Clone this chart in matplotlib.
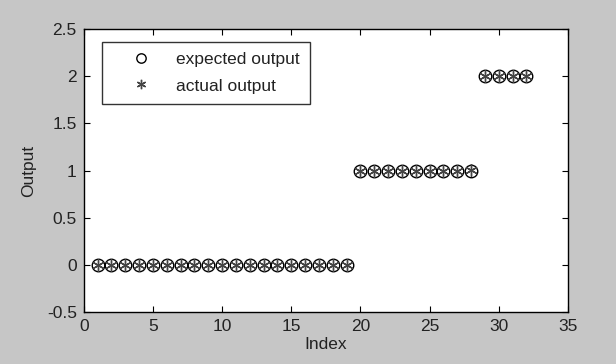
import numpy as np
import matplotlib
matplotlib.use("Agg")
import matplotlib.pyplot as plt

plt.rcParams['font.family'] = ['Liberation Sans', 'DejaVu Sans']

index = list(range(1, 33))
expected = [0]*19 + [1]*9 + [2]*4
actual = [0]*19 + [1]*8 + [1.01] + [2]*4

fig = plt.figure(figsize=(6.16, 3.64), dpi=100, facecolor='#c6c6c6')
ax = fig.add_axes([0.136, 0.143, 0.786, 0.777])
ax.set_facecolor('white')

ax.plot(index, expected, linestyle='none', marker='o', markersize=9,
        markerfacecolor='none', markeredgecolor='black', markeredgewidth=1.0,
        label='expected output')
ax.plot(index, actual, linestyle='none', marker=(6, 2, 0), markersize=9,
        color='#444444', markeredgewidth=1.0, label='actual output')

ax.set_xlim(0, 35)
ax.set_ylim(-0.5, 2.5)
ax.set_xticks(np.arange(0, 36, 5))
ax.set_yticks(np.arange(-0.5, 2.51, 0.5))
ax.set_yticklabels(['-0.5', '0', '0.5', '1', '1.5', '2', '2.5'])
ax.tick_params(direction='in', top=True, right=True, labelsize=12.5, length=4,
               width=0.8, pad=5, labelcolor='#222222')
for s in ax.spines.values():
    s.set_linewidth(1.0)
ax.set_xlabel('Index', fontsize=12.5, labelpad=2, color='#222222')
ax.set_ylabel('Output', fontsize=12.5, labelpad=8, color='#222222')

leg = ax.legend(loc='upper left', bbox_to_anchor=(0.037, 0.955), fontsize=12.5,
                frameon=True, fancybox=False, edgecolor='black',
                handletextpad=0.35, borderpad=0.58, labelspacing=0.65,
                handlelength=3.34, borderaxespad=0, markerscale=0.75)
leg.get_frame().set_linewidth(1.0)
for t in leg.get_texts():
    t.set_color('#222222')

fig.savefig('out.png', dpi=100, facecolor=fig.get_facecolor())
